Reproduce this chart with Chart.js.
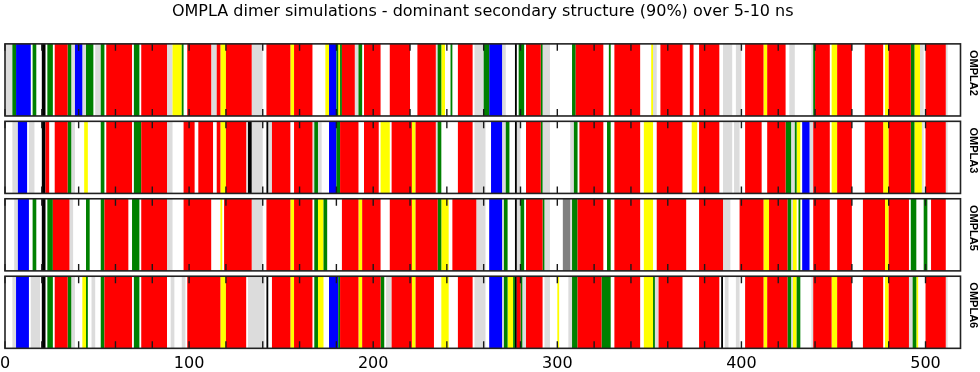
<!DOCTYPE html>
<html lang="en">
<head>
<meta charset="UTF-8">
<title>OMPLA dimer simulations - secondary structure</title>
<script src="https://cdn.jsdelivr.net/npm/chart.js@4.4.1/dist/chart.umd.min.js"></script>
<style>
  html, body { margin: 0; padding: 0; background: #fff; }
  .wrap { position: relative; width: 980px; height: 372px; }
</style>
</head>
<body>
<div class="wrap"><canvas id="ssChart" width="980" height="372"></canvas></div>
<script>
  // simulations (one panel each)
  const simulations = ['OMPLA2', 'OMPLA3', 'OMPLA5', 'OMPLA6'];

  // structure classes: E sheet, S bend, T turn, H helix, B bridge, G 3-helix, N no dominant structure
  const structureCodes = ['E', 'S', 'T', 'H', 'B', 'G', 'N'];

  // residue axis
  const residueMax = 519;
  const tickStep = 20;
  const labelStep = 100;

  // [first residue, last residue, class] ; coil (white) is left out
  const ompla2 = [
    [0,4,'N'],[4,6,'S'],[6,14,'H'],[15,17,'S'],[20,22,'B'],[23,26,'S'],[27,34,'E'],[34,36,'S'],[36,38,'N'],
    [38,42,'H'],[42,44,'N'],[44,48,'S'],[49,52,'N'],[52,54,'S'],[55,69,'E'],[70,73,'S'],[74,88,'E'],[88,91,'N'],
    [91,96,'T'],[96,97,'S'],[99,112,'E'],[112,115,'N'],[115,117,'E'],[117,120,'T'],[120,134,'E'],[134,140,'N'],
    [142,155,'E'],[155,157,'T'],[157,167,'E'],[174,176,'T'],[176,180,'H'],[180,181,'S'],[181,182,'T'],[182,183,'S'],
    [183,190,'E'],[190,192,'N'],[192,194,'S'],[195,204,'E'],[209,220,'E'],[224,234,'E'],[234,235,'N'],[235,237,'S'],
    [237,239,'T'],[242,243,'S'],[246,254,'E'],[255,260,'N'],[260,263,'S'],[263,270,'H'],[270,272,'N'],[277,278,'B'],
    [279,282,'S'],[283,291,'E'],[291,292,'S'],[292,296,'N'],[308,310,'S'],[310,325,'E'],[328,329,'S'],[331,345,'E'],
    [351,352,'T'],[352,354,'N'],[356,368,'E'],[372,374,'E'],[377,388,'E'],[390,395,'N'],[397,400,'N'],[402,412,'E'],
    [412,414,'T'],[414,424,'E'],[426,429,'N'],[438,439,'N'],[439,440,'S'],[440,448,'E'],[449,452,'T'],[452,460,'E'],
    [467,477,'E'],[478,480,'T'],[480,492,'E'],[492,494,'S'],[494,497,'T'],[497,499,'N'],[500,511,'E'],[511,512,'N']
  ];

  const ompla3 = [
    [4,7,'N'],[7,12,'H'],[13,16,'N'],[20,22,'B'],[22,24,'E'],[27,34,'E'],[34,36,'S'],[36,38,'N'],[43,45,'T'],
    [52,54,'S'],[55,69,'E'],[70,74,'S'],[74,88,'E'],[88,91,'N'],[97,103,'E'],[105,113,'E'],[115,117,'E'],[117,120,'T'],
    [120,131,'E'],[131,132,'N'],[132,134,'B'],[134,140,'N'],[142,143,'B'],[143,145,'N'],[145,155,'E'],[157,167,'E'],
    [167,168,'N'],[168,170,'S'],[170,172,'N'],[176,180,'H'],[180,182,'S'],[182,192,'E'],[195,203,'E'],[204,209,'T'],
    [210,221,'E'],[221,223,'T'],[223,234,'E'],[234,235,'N'],[235,237,'S'],[246,254,'E'],[255,261,'N'],[264,270,'H'],
    [270,272,'N'],[272,274,'S'],[277,278,'B'],[278,280,'N'],[283,291,'E'],[291,292,'S'],[292,296,'N'],[307,309,'N'],
    [309,311,'S'],[312,325,'E'],[327,329,'S'],[331,345,'E'],[347,352,'T'],[354,368,'E'],[373,376,'T'],[377,388,'E'],
    [390,395,'N'],[396,399,'N'],[402,411,'E'],[414,424,'E'],[424,427,'S'],[427,429,'N'],[429,430,'S'],[430,432,'T'],
    [433,437,'H'],[437,439,'N'],[439,448,'E'],[449,452,'T'],[452,460,'E'],[467,477,'E'],[477,480,'T'],[480,492,'E'],
    [492,494,'S'],[494,498,'T'],[498,499,'N'],[500,511,'E'],[511,512,'N']
  ];

  const ompla5 = [
    [5,7,'N'],[7,13,'H'],[15,17,'S'],[20,22,'B'],[23,26,'S'],[26,35,'E'],[35,37,'N'],[44,46,'S'],[52,54,'S'],
    [54,67,'E'],[69,73,'S'],[74,88,'E'],[88,91,'N'],[97,112,'E'],[117,118,'T'],[119,134,'E'],[134,140,'N'],
    [142,155,'E'],[155,157,'T'],[157,167,'E'],[168,170,'S'],[170,173,'T'],[173,175,'S'],[183,192,'E'],[192,194,'T'],
    [194,204,'E'],[209,221,'E'],[221,223,'T'],[223,235,'E'],[235,237,'S'],[237,241,'T'],[243,256,'E'],[256,261,'N'],
    [263,270,'H'],[270,271,'N'],[271,273,'S'],[277,278,'B'],[278,280,'N'],[280,282,'S'],[283,292,'E'],[292,293,'S'],
    [293,296,'N'],[303,307,'G'],[307,308,'N'],[308,311,'S'],[311,325,'E'],[327,329,'S'],[331,345,'E'],[347,352,'T'],
    [354,370,'E'],[377,390,'E'],[390,394,'N'],[399,412,'E'],[412,415,'T'],[415,425,'E'],[425,427,'S'],[427,428,'N'],
    [428,430,'T'],[431,432,'S'],[433,437,'H'],[439,448,'E'],[452,460,'E'],[466,478,'E'],[478,480,'T'],[480,491,'E'],
    [492,495,'S'],[499,501,'S'],[503,511,'E']
  ];

  const ompla6 = [
    [4,6,'N'],[6,13,'H'],[14,19,'N'],[20,22,'B'],[23,26,'S'],[27,34,'E'],[34,36,'S'],[36,38,'N'],[42,44,'T'],
    [44,45,'S'],[47,49,'N'],[52,54,'S'],[54,69,'E'],[70,73,'S'],[74,88,'E'],[90,92,'N'],[96,98,'N'],[99,117,'E'],
    [117,120,'T'],[120,131,'E'],[132,141,'N'],[142,143,'B'],[145,155,'E'],[155,157,'T'],[157,167,'E'],[168,170,'S'],
    [170,173,'T'],[176,181,'H'],[181,182,'S'],[182,192,'E'],[192,194,'T'],[194,204,'E'],[204,206,'S'],[207,210,'N'],
    [210,221,'E'],[221,223,'T'],[223,233,'E'],[237,241,'T'],[246,254,'E'],[255,261,'N'],[263,270,'H'],[270,271,'N'],
    [271,273,'S'],[273,276,'T'],[276,277,'S'],[277,278,'B'],[278,280,'E'],[280,281,'S'],[281,283,'N'],[283,292,'E'],
    [293,296,'N'],[300,301,'T'],[306,308,'N'],[308,311,'S'],[311,324,'E'],[324,329,'S'],[331,345,'E'],[347,352,'T'],
    [352,353,'S'],[353,355,'N'],[355,368,'E'],[377,388,'E'],[389,390,'B'],[391,393,'N'],[397,399,'N'],[402,412,'E'],
    [412,414,'T'],[414,425,'E'],[425,427,'S'],[427,428,'N'],[428,430,'T'],[430,432,'S'],[438,439,'N'],[439,449,'E'],
    [449,452,'T'],[452,460,'E'],[466,477,'E'],[478,480,'T'],[480,491,'E'],[491,493,'N'],[493,495,'S'],[495,496,'T'],
    [500,511,'E'],[511,512,'N']
  ];

  const rowSegments = [ompla2, ompla3, ompla5, ompla6];

  const classColors = {
    E: '#ff0000', S: '#008000', T: '#ffff00', H: '#0000ff',
    B: '#000000', G: '#808080', N: '#dcdcdc'
  };

  const panelFraction = 0.931; // panel height / row pitch

  // one dataset per structure class, floating bars [start, end]
  const datasets = structureCodes.map(code => ({
    label: code,
    data: simulations.flatMap((name, i) =>
      rowSegments[i].filter(s => s[2] === code).map(s => ({ x: [s[0], s[1]], y: name }))
    ),
    backgroundColor: classColors[code],
    borderWidth: 0,
    grouped: false,
    barPercentage: 1,
    categoryPercentage: panelFraction
  }));

  // boxes, inward ticks and right-hand names for each panel
  const panelFrames = {
    id: 'panelFrames',
    afterDatasetsDraw(chart) {
      const { ctx, chartArea: a, scales: { x, y } } = chart;
      const half = (a.bottom - a.top) / simulations.length * panelFraction / 2;
      ctx.save();
      simulations.forEach((name, i) => {
        const cy = y.getPixelForValue(i);
        const top = cy - half;
        const bottom = cy + half;

        ctx.strokeStyle = '#1a1a1a';
        ctx.lineWidth = 1.4;
        ctx.beginPath();
        x.ticks.forEach(t => {
          const px = x.getPixelForValue(t.value);
          ctx.moveTo(px, top);
          ctx.lineTo(px, top + 7);
          ctx.moveTo(px, bottom);
          ctx.lineTo(px, bottom - 7);
        });
        ctx.stroke();

        ctx.strokeStyle = '#222';
        ctx.lineWidth = 1.6;
        ctx.strokeRect(a.left, top, a.right - a.left, bottom - top);

        ctx.save();
        ctx.translate(a.right + 13, cy - 7);
        ctx.rotate(Math.PI / 2);
        ctx.fillStyle = '#000';
        ctx.font = 'bold 11px "Liberation Sans", Arial, sans-serif';
        ctx.textAlign = 'center';
        ctx.textBaseline = 'middle';
        ctx.fillText(name, 0, 0);
        ctx.restore();
      });
      ctx.restore();
    }
  };

  new Chart(document.getElementById('ssChart'), {
    type: 'bar',
    data: { labels: simulations, datasets: datasets },
    options: {
      indexAxis: 'y',
      responsive: false,
      animation: false,
      events: [],
      layout: { padding: { left: 5, right: 19.5, top: 0, bottom: 0 } },
      scales: {
        x: {
          type: 'linear',
          min: 0,
          max: residueMax,
          grid: { display: false, drawTicks: false },
          border: { display: false },
          afterFit: s => { s.paddingLeft = 0; s.paddingRight = 0; s.height = 21; },
          ticks: {
            stepSize: tickStep,
            includeBounds: false,
            autoSkip: false,
            maxRotation: 0,
            padding: 5,
            color: '#000',
            font: { family: '"DejaVu Sans", sans-serif', size: 16, lineHeight: 1 },
            callback: v => (v % labelStep === 0 ? v : '')
          }
        },
        y: { type: 'category', display: false }
      },
      plugins: {
        legend: { display: false },
        tooltip: { enabled: false },
        title: {
          display: true,
          text: 'OMPLA dimer simulations - dominant secondary structure (90%) over 5-10 ns',
          color: '#000',
          font: { family: '"DejaVu Sans", sans-serif', size: 16, weight: 'normal', lineHeight: 1.2 },
          padding: { top: 2, bottom: 20 }
        }
      }
    },
    plugins: [panelFrames]
  });
</script>
</body>
</html>
